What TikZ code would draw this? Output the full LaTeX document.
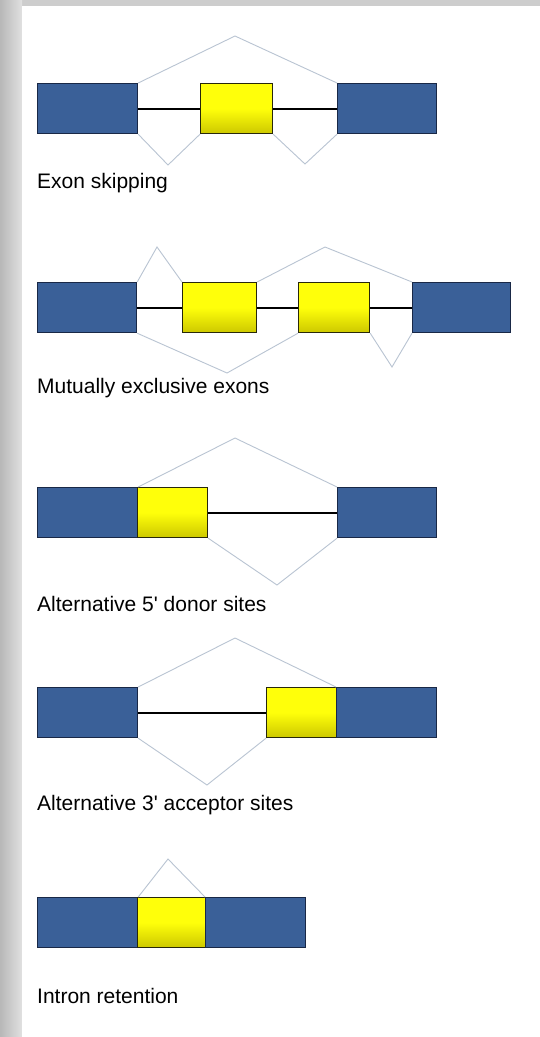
\documentclass[tikz,border=0pt]{standalone}
\usepackage{fontspec}
\setmainfont{Liberation Sans}[Ligatures=TeXOff]
\definecolor{exonblue}{RGB}{58,96,152}
\definecolor{exonedge}{RGB}{25,40,70}
\definecolor{yelltop}{RGB}{255,255,10}
\definecolor{yellbot}{RGB}{205,200,0}
\definecolor{yelledge}{RGB}{40,40,10}
\definecolor{splice}{RGB}{185,196,210}
\definecolor{panel}{RGB}{205,205,205}
\begin{document}
\begin{tikzpicture}[x=1pt,y=-1pt,
  constexon/.style={draw=exonedge,fill=exonblue,line width=1.2pt,inner sep=0pt,anchor=north west,minimum height=50pt},
  altexon/.style={draw=yelledge,top color=yelltop,bottom color=yellbot,middle color=yelltop,line width=1.2pt,inner sep=0pt,anchor=north west,minimum height=50pt},
  intron/.style={draw=black,line width=2.2pt},
  spl/.style={draw=splice,line width=0.9pt},
  lab/.style={anchor=base west,inner sep=0pt,font=\fontsize{21}{24}\selectfont,text=black}]
% background
\fill[panel] (0,0) rectangle (540,1037);
\shade[left color=black!28,right color=black!12] (0,0) rectangle (22,1037);
\fill[white] (22,6) rectangle (540,1037);
\useasboundingbox (0,0) rectangle (540,1037);

% Row 1: exon skipping
\node[constexon,minimum width=100pt] (a1) at (37,83) {};
\node[altexon,minimum width=72pt] (a2) at (200,83) {};
\node[constexon,minimum width=99pt] (a3) at (337,83) {};
\draw[intron] (a1.east) -- (a2.west);
\draw[intron] (a2.east) -- (a3.west);
\coordinate (a4) at (235,36);
\coordinate (a5) at (168,165);
\coordinate (a6) at (305,164);
\draw[spl] (a1.north east) -- (a4) -- (a3.north west);
\draw[spl] (a1.south east) -- (a5) -- (a2.south west);
\draw[spl] (a2.south east) -- (a6) -- (a3.south west);
\node[lab] (a7) at (37,188) {Exon skipping};

% Row 2: mutually exclusive exons
\node[constexon,minimum width=99pt] (b1) at (37,282) {};
\node[altexon,minimum width=74pt] (b2) at (182,282) {};
\node[altexon,minimum width=71pt] (b3) at (298,282) {};
\node[constexon,minimum width=98pt] (b4) at (412,282) {};
\draw[intron] (b1.east) -- (b2.west);
\draw[intron] (b2.east) -- (b3.west);
\draw[intron] (b3.east) -- (b4.west);
\coordinate (b5) at (157,247);
\coordinate (b6) at (325,247);
\coordinate (b7) at (227,373);
\coordinate (b8) at (392,367);
\draw[spl] (b1.north east) -- (b5) -- (b2.north west);
\draw[spl] (b2.north east) -- (b6) -- (b4.north west);
\draw[spl] (b1.south east) -- (b7) -- (b3.south west);
\draw[spl] (b3.south east) -- (b8) -- (b4.south west);
\node[lab] (b9) at (37,393) {Mutually exclusive exons};

% Row 3: alternative 5' donor sites
\node[constexon,minimum width=100pt] (c1) at (37,487) {};
\node[altexon,minimum width=70pt] (c2) at (137,487) {};
\node[constexon,minimum width=99pt] (c3) at (337,487) {};
\draw[intron] (c2.east) -- (c3.west);
\coordinate (c4) at (235,438);
\coordinate (c5) at (277,585);
\draw[spl] (c1.north east) -- (c4) -- (c3.north west);
\draw[spl] (c2.south east) -- (c5) -- (c3.south west);
\node[lab] (c6) at (37,611) {Alternative 5' donor sites};

% Row 4: alternative 3' acceptor sites
\node[constexon,minimum width=100pt] (d1) at (37,687) {};
\node[altexon,minimum width=70pt] (d2) at (266,687) {};
\node[constexon,minimum width=100pt] (d3) at (336,687) {};
\draw[intron] (d1.east) -- (d2.west);
\coordinate (d4) at (235,638);
\coordinate (d5) at (207,785);
\draw[spl] (d1.north east) -- (d4) -- (d3.north west);
\draw[spl] (d1.south east) -- (d5) -- (d2.south west);
\node[lab] (d6) at (37,810) {Alternative 3' acceptor sites};

% Row 5: intron retention
\node[constexon,minimum width=100pt] (e1) at (37,897) {};
\node[altexon,minimum width=68pt] (e2) at (137,897) {};
\node[constexon,minimum width=100pt] (e3) at (205,897) {};
\coordinate (e4) at (168,859);
\draw[spl] (e1.north east) -- (e4) -- (e3.north west);
\node[lab] (e5) at (37,1003) {Intron retention};
\end{tikzpicture}
\end{document}
